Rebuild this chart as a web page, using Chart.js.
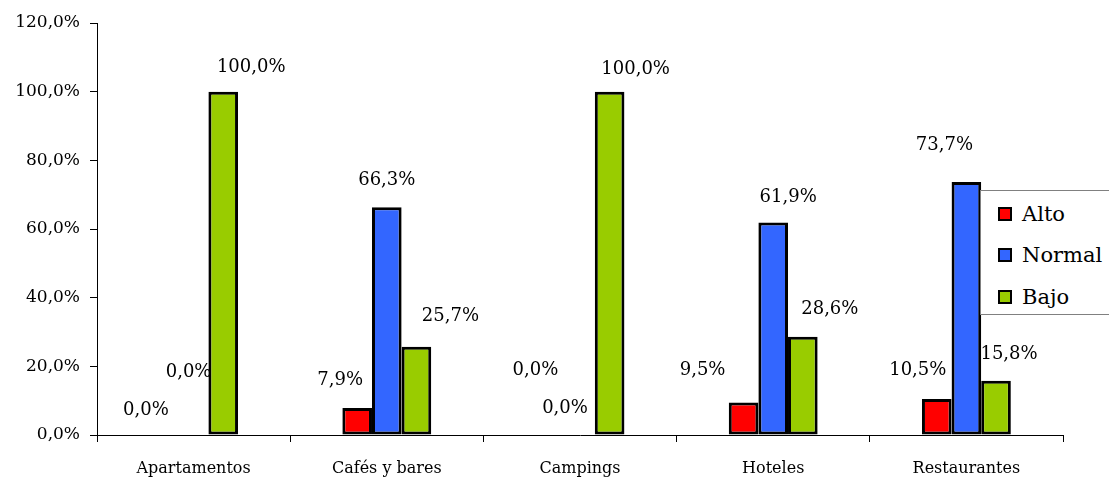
<!DOCTYPE html>
<html>
<head>
<meta charset="utf-8">
<script src="https://cdn.jsdelivr.net/npm/chart.js@4/dist/chart.umd.min.js"></script>
<style>
  html, body { margin: 0; padding: 0; background: #fff; overflow: hidden; }
  #wrap { position: relative; width: 1109px; height: 477px; }
  #legend {
    position: absolute; left: 980px; top: 190px; width: 160px; height: 125px;
    border: 1px solid #808080; background: #fff; box-sizing: border-box;
    font-family: "DejaVu Serif", serif; font-size: 21px; color: #000;
  }
  .li { position: absolute; left: 17px; height: 24px; line-height: 24px; white-space: nowrap; }
  .sw { display: inline-block; width: 10px; height: 10px; border: 2.5px solid #000; vertical-align: middle; margin-right: 10px; position: relative; top: -2px; }
</style>
</head>
<body>
<div id="wrap">
  <canvas id="c" width="1109" height="477"></canvas>
  <div id="legend"></div>
</div>
<script>
const categories = ["Apartamentos", "Cafés y bares", "Campings", "Hoteles", "Restaurantes"];
const seriesNames = ["Alto", "Normal", "Bajo"];
const alto = [0.0, 7.9, 0.0, 9.5, 10.5];
const normal = [0.0, 66.3, 0.0, 61.9, 73.7];
const bajo = [100.0, 25.7, 100.0, 28.6, 15.8];
const yTicks = [0, 20, 40, 60, 80, 100, 120];

const colors = ["#FF0000", "#3366FF", "#99CC00"];
// label offsets (px) relative to bar centre / bar top, mimicking the original placement
const labelDx = [[-18, -17, -15, -41, -19], [-5, 0, -15, 15, -22], [28, 34, 26, 27, 13]];
const labelDy = [[-25, -28, -65, -32, -29], [-63, -27, -27, -25, -37], [-24, -30, -22, -27, -26]];

const fmt = v => v.toFixed(1).replace(".", ",") + "%";
const FONT = "DejaVu Serif";

const labelPlugin = {
  id: "vlabels",
  afterDatasetsDraw(chart) {
    const ctx = chart.ctx;
    ctx.save();
    ctx.font = "18px '" + FONT + "'";
    ctx.fillStyle = "#000";
    ctx.textAlign = "center";
    ctx.textBaseline = "middle";
    chart.data.datasets.forEach((ds, di) => {
      const meta = chart.getDatasetMeta(di);
      meta.data.forEach((bar, i) => {
        ctx.fillText(fmt(ds.data[i]), bar.x + labelDx[di][i], bar.y + labelDy[di][i]);
      });
    });
    ctx.restore();
  }
};

const seriesData = [alto, normal, bajo];
new Chart(document.getElementById("c"), {
  type: "bar",
  data: {
    labels: categories,
    datasets: seriesNames.map((n, k) => ({
      label: n,
      data: seriesData[k],
      backgroundColor: colors[k],
      borderColor: "#000",
      borderWidth: 3,
      borderSkipped: false,
      barPercentage: 1,
      categoryPercentage: 0.46
    }))
  },
  options: {
    responsive: false,
    animation: false,
    events: [],
    layout: { padding: { left: 0, right: 46, top: 23, bottom: 0 } },
    plugins: { legend: { display: false }, tooltip: { enabled: false } },
    scales: {
      x: {
        offset: true,
        grid: { display: true, drawOnChartArea: false, drawTicks: true, tickLength: 7, color: "#000", offset: true },
        border: { display: true, color: "#000", width: 1 },
        ticks: { font: { family: FONT, size: 16 }, color: "#000", padding: 17, maxRotation: 0 },
        afterFit(s) { s.height = 42; }
      },
      y: {
        min: 0, max: 120,
        afterBuildTicks(s) { s.ticks = yTicks.map(v => ({ value: v })); },
        grid: { display: true, drawOnChartArea: false, drawTicks: true, tickLength: 7, color: "#000" },
        border: { display: true, color: "#000", width: 1 },
        ticks: { font: { family: FONT, size: 17 }, color: "#000", padding: 10, callback: v => fmt(v) },
        afterFit(s) { s.width = 97; }
      }
    }
  },
  plugins: [labelPlugin]
});

const lg = document.getElementById("legend");
const tops = [11, 52, 94];
seriesNames.forEach((n, k) => {
  const d = document.createElement("div");
  d.className = "li";
  d.style.top = tops[k] + "px";
  d.innerHTML = '<span class="sw" style="background:' + colors[k] + '"></span>' + n;
  lg.appendChild(d);
});
</script>
</body>
</html>
